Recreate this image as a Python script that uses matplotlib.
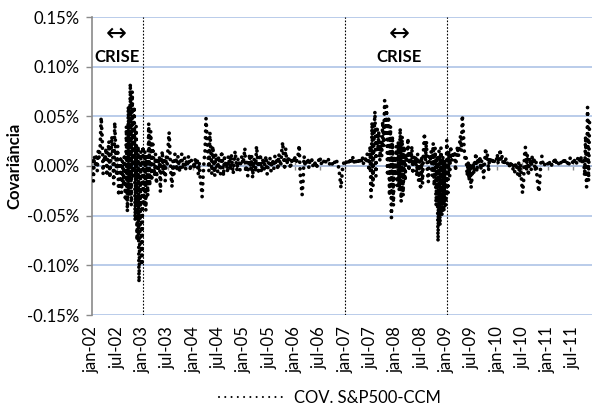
import pandas as pd
import matplotlib
matplotlib.use("Agg")
import matplotlib.pyplot as plt
from matplotlib.lines import Line2D
from matplotlib.ticker import FuncFormatter

plt.rcParams["font.family"] = ["Lato", "DejaVu Sans"]

# Weekly covariance S&P500 x CCM (values in %), first observation 2002-01-04
series_name = "COV. S&P500-CCM"
first_week = "2002-01-04"

cov_2002 = [0.005, -0.015, 0.010, 0.002, 0.012, -0.005, 0.015, 0.008,
            0.020, 0.049, 0.030, -0.008, 0.010, 0.005, 0.018, -0.010, 0.012,
            0.025, -0.012, 0.008, 0.030, 0.010, -0.018, 0.044, 0.015, -0.010,
            0.020, -0.030, -0.015, 0.010, -0.027, 0.005, -0.020, 0.012,
            -0.035, 0.040, -0.046, 0.060, -0.030, 0.083, -0.040, 0.075, -0.010,
            0.060, -0.055, 0.040, -0.075, 0.020, -0.117, -0.060, 0.015, -0.100]
cov_2003 = [0.020, -0.040, 0.015, -0.045, 0.010, -0.030, 0.043, -0.020,
            0.035, -0.015, 0.025, 0.005, -0.010, 0.012, -0.018, 0.008, -0.005,
            0.010, -0.026, 0.005, 0.015, -0.008, 0.006, -0.015, 0.010, 0.002,
            0.020, 0.034, 0.010, -0.010, -0.021, 0.005, -0.008, 0.012,
            0.008, -0.005, 0.010, 0.002, -0.006, 0.005, 0.012, -0.003, 0.004,
            0.008, -0.004, 0.006, 0.002, 0.010, 0.003, -0.005, 0.006, 0.004]
cov_2004 = [0.004, -0.003, 0.008, 0.002, 0.006, -0.008, 0.004, -0.012,
            -0.020, -0.031, -0.010, 0.005, 0.015, 0.048, 0.030, 0.010, -0.005,
            0.034, 0.015, -0.008, 0.020, 0.005, -0.010, 0.012, 0.003, -0.006,
            0.010, 0.004, -0.008, 0.015, 0.006, -0.010, 0.008, 0.002,
            0.004, -0.006, 0.010, 0.003, -0.004, 0.012, 0.002, -0.008, 0.006,
            0.015, 0.004, -0.005, 0.008, 0.003, -0.004, 0.006, 0.010, 0.002]
cov_2005 = [0.008, 0.018, -0.006, 0.004, -0.010, 0.006, 0.012, -0.004,
            0.010, -0.012, 0.004, 0.008, -0.006, 0.020, 0.010, -0.008, 0.006,
            0.012, -0.006, 0.003, 0.008, -0.004, 0.006, 0.010, -0.008, 0.004,
            0.002, 0.008, -0.005, 0.006, 0.004, -0.003, 0.010, 0.002,
            0.006, -0.004, 0.012, 0.004, 0.000, 0.015, 0.024, 0.008, -0.004,
            0.018, 0.006, 0.002, 0.010, 0.004, -0.003, 0.006, 0.002, 0.008]
cov_2006 = [0.006, 0.010, 0.002, 0.008, 0.012, 0.021, -0.008, -0.018,
            -0.029, -0.015, 0.010, 0.002, 0.006, 0.004, 0.008, -0.002, 0.005,
            0.003, 0.006, 0.000, 0.004, 0.002, 0.005, -0.003, 0.004, 0.006,
            0.003, 0.008, 0.002, 0.004, 0.006, 0.002, 0.005, 0.003,
            0.004, 0.007, 0.001, 0.005, 0.003, 0.002, 0.004, 0.006, 0.001,
            0.003, 0.005, 0.002, -0.004, -0.012, -0.022, -0.010, 0.002, 0.003]
cov_2007 = [0.003, 0.006, 0.002, 0.005, 0.004, 0.008, 0.002, 0.006,
            0.010, 0.003, 0.005, 0.002, 0.007, 0.004, 0.006, 0.003, 0.008,
            0.005, 0.010, 0.002, 0.006, 0.008, 0.003, 0.012, 0.005, -0.005,
            0.020, -0.031, 0.044, -0.020, 0.030, 0.055, -0.010, 0.040,
            0.015, 0.035, 0.005, 0.025, 0.010, 0.045, 0.020, 0.066, 0.030,
            0.060, -0.010, 0.050, -0.030, 0.040, -0.052, 0.030, -0.040, 0.010]
cov_2008 = [-0.010, 0.020, -0.020, 0.025, -0.025, 0.038, -0.036, 0.030,
            -0.030, 0.020, -0.015, 0.010, 0.005, 0.028, -0.005, 0.015, 0.002,
            0.020, -0.008, 0.010, 0.003, 0.008, -0.010, 0.012, -0.015, 0.005,
            -0.024, 0.010, -0.018, 0.015, 0.033, 0.005, 0.025, -0.005,
            -0.016, 0.010, 0.005, 0.015, -0.010, 0.023, -0.020, 0.018, -0.040,
            0.010, -0.076, 0.015, -0.060, 0.018, -0.050, 0.010, -0.046, 0.005]
cov_2009 = [-0.040, 0.026, -0.030, 0.015, -0.010, 0.020, 0.005, 0.012,
            0.008, 0.015, -0.005, 0.010, 0.020, 0.010, 0.020, 0.030, 0.015,
            0.051, 0.035, 0.015, 0.005, 0.008, -0.010, 0.004, -0.015, 0.002,
            -0.022, -0.012, 0.003, -0.008, 0.005, 0.013, -0.006, 0.008,
            0.002, 0.010, -0.004, 0.006, 0.003, -0.012, 0.004, 0.018, 0.006,
            0.012, -0.005, 0.008, 0.003, 0.006, 0.002, 0.008, 0.004, 0.003]
cov_2010 = [0.004, 0.012, 0.002, 0.008, 0.017, 0.005, 0.010, 0.003,
            0.006, 0.002, 0.008, 0.004, 0.001, 0.003, -0.002, 0.005, 0.001,
            -0.004, 0.002, -0.006, 0.003, 0.000, -0.008, 0.004, -0.010, 0.002,
            -0.015, -0.027, -0.018, 0.010, 0.019, -0.005, 0.012, -0.010,
            0.005, 0.008, -0.004, 0.010, 0.002, 0.006, -0.005, 0.004, -0.012,
            -0.020, -0.026, -0.010, 0.005, 0.010, 0.002, 0.004, 0.001, 0.003]
cov_2011 = [0.004, 0.002, 0.006, 0.003, 0.005, 0.001, 0.004, 0.006,
            0.002, 0.008, 0.003, 0.005, 0.002, 0.004, 0.006, 0.001, 0.003,
            0.005, 0.002, 0.007, 0.004, 0.003, 0.006, 0.002, 0.008, 0.004,
            0.005, 0.003, 0.007, 0.004, 0.006, 0.002, 0.008, 0.005,
            0.004, 0.010, 0.003, 0.006, 0.008, -0.010, 0.030, -0.021, 0.059,
            -0.015, 0.045]

# Axis settings
y_ticks = [-0.15, -0.10, -0.05, 0.00, 0.05, 0.10, 0.15]
month_names = {1: "jan", 7: "jul"}
tick_dates = pd.date_range("2002-01-01", "2011-07-01", freq="6MS")
x_start, x_end = "2002-01-01", "2011-11-15"
crisis_dates = ["2003-01-01", "2007-01-01", "2009-01-01"]
crisis_text_dates = ["2002-06-28", "2008-01-22"]

values = (cov_2002 + cov_2003 + cov_2004 + cov_2005 + cov_2006 +
          cov_2007 + cov_2008 + cov_2009 + cov_2010 + cov_2011)
dates = pd.date_range(first_week, periods=len(values), freq="7D")

fig = plt.figure(figsize=(5.92, 4.12), dpi=100)
ax = fig.add_axes([92 / 592, 1 - 315 / 412, 1 - 92 / 592, (315 - 17) / 412])

grid_blue = "#aec3e6"
axis_gray = "#8a8a8a"

ax.set_ylim(-0.15, 0.15)
ax.set_xlim(pd.Timestamp(x_start), pd.Timestamp(x_end))
ax.set_yticks(y_ticks)
ax.yaxis.set_major_formatter(FuncFormatter(lambda v, _: f"{v:.2f}%"))
ax.yaxis.grid(True, color=grid_blue, lw=1.2)
ax.set_axisbelow(True)

ax.set_xticks(tick_dates)
ax.set_xticklabels([f"{month_names[d.month]}-{d:%y}" for d in tick_dates],
                   rotation=90, fontsize=12)
ax.tick_params(axis="x", length=0, pad=8)
ax.tick_params(axis="y", length=4, color=axis_gray, width=1, labelsize=12, pad=5)

for side in ("top", "right", "bottom"):
    ax.spines[side].set_visible(False)
ax.spines["left"].set_color(axis_gray)
ax.spines["left"].set_linewidth(1.2)

# Category axis crossing at zero
zero_axis = ax.secondary_xaxis(0.5)
zero_axis.set_xticks(tick_dates)
zero_axis.tick_params(direction="inout", length=6, color=axis_gray, width=1,
                      labeltop=False, labelbottom=False)
for sp in zero_axis.spines.values():
    sp.set_color(axis_gray)
    sp.set_linewidth(1.2)

for d in crisis_dates:
    ax.axvline(pd.Timestamp(d), color="black", lw=0.8, ls=(0, (1.5, 1.5)), zorder=3)

ax.plot(dates, values, color="black", lw=2.7, ls=(0, (0.01, 1.75)),
        dash_capstyle="round", zorder=4)

for d in crisis_text_dates:
    ax.text(pd.Timestamp(d), 0.133, "\u2194", ha="center", va="center",
            fontsize=18, family=["DejaVu Sans"])
    ax.text(pd.Timestamp(d), 0.110, "CRISE", ha="center", va="center",
            fontsize=12, fontweight="bold")

fig.text(14 / 592, 1 - 166 / 412, "Covariância", rotation=90, ha="center",
         va="center", fontsize=12, fontweight="bold")

handle = Line2D([], [], color="black", lw=1.5, ls=(0, (0.01, 3.0)),
                dash_capstyle="round")
fig.legend([handle], [series_name], loc="center",
           bbox_to_anchor=(330 / 592, 1 - 398 / 412), frameon=False, fontsize=12,
           handlelength=4.0, handletextpad=0.5)

fig.savefig("out.png", dpi=100)
